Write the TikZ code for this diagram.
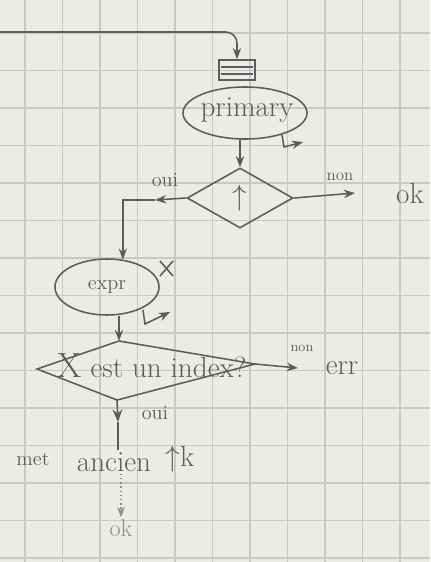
\documentclass[tikz,border=0pt]{standalone}
\usepackage{tikz}
\usetikzlibrary{arrows.meta, positioning}
\usetikzlibrary{shapes}
\definecolor{paper}{HTML}{EBEBE8}
\definecolor{gridgray}{HTML}{C8C8C5}
\definecolor{pencil}{HTML}{5C5C5C}
\definecolor{faint}{HTML}{8E8E8E}

\begin{document}
\begin{tikzpicture}[
    x=0.025cm, y=-0.025cm,
    every node/.style={
        text=pencil,
        inner sep=1pt,
        font=\huge},
    blob/.style={
        draw=pencil, ellipse, line width=1.1pt, inner sep=0pt},
    test/.style={
        draw=pencil, diamond, line width=1.1pt, inner sep=0pt,
        minimum width=2.65cm, minimum height=1.5cm, font=\huge},
    stackbox/.style={
        draw=pencil, line width=1.1pt, minimum width=0.9cm, minimum height=0.5cm,
        inner sep=0pt},
    >=Stealth]

    % squared paper
    \useasboundingbox (0,0) rectangle (430,562);
    \fill[paper] (0,0) rectangle (430,562);
    \foreach \gx in {25,62.5,...,440} \draw[gridgray, line width=0.9pt] (\gx,0) -- (\gx,562);
    \foreach \gy in {33,70.5,...,562} \draw[gridgray, line width=0.9pt] (0,\gy) -- (430,\gy);

    \begin{scope}[draw=pencil, line width=1.1pt]
    \coordinate (entry) at (0,32);
    \node[stackbox] (stack) at (237,70) {};
    \draw ([xshift=2pt]stack.west |- 0,67) -- ([xshift=-2pt]stack.east |- 0,67);
    \draw ([xshift=2pt]stack.west |- 0,74) -- ([xshift=-2pt]stack.east |- 0,74);
    \node[blob, minimum width=3.1cm, minimum height=1.3cm] (prim) at (245,113) {};
    \node at (247,110) {primary};
    \node[test] (dec) at (240,198) {$\uparrow$};
    \node[blob, minimum width=2.6cm, minimum height=1.4cm, font=\Large] (expr) at (107,287) {expr};

    % second test, a skewed diamond
    \coordinate (qtop) at (119,341);
    \coordinate (qleft) at (37,369);
    \coordinate (qbot) at (117,400);
    \coordinate (qright) at (255,364);
    \draw (qleft) -- (qtop) -- (qright) -- (qbot) -- cycle;
    \node (qtext) at (152,366) {\Huge X\huge\ est un index?};

    \node (ok) at (410,193) {ok};
    \node (err) at (342,368) {err};
    \node[font=\Large] (met) at (33,459) {met};
    \node (anc) at (114,462) {ancien};
    \node (upk) at (180,459) {$\uparrow$k};
    \node[text=faint, font=\LARGE] (okend) at (121,528) {ok};

    \coordinate (ouimid) at (155,200);
    \coordinate (nonend) at (355,193);
    \coordinate (errend) at (298,368);
    \coordinate (dnarr) at (118,422);

    \draw[->, rounded corners=8pt] (entry) -| (stack.north);
    \draw[->] (prim.south -| dec.north) -- (dec.north);
    \draw[->] (dec.east) -- (nonend);
    \draw[->] (dec.west) -- (ouimid);
    \draw[->] (ouimid) -| (expr.60);
    \draw[->] (expr.south -| qtop) -- (qtop);
    \draw[->] (qright) -- (errend);
    \draw[-{Stealth[length=9pt, width=7pt]}] (qbot) -- (dnarr);
    \draw (dnarr) -- (anc.north -| dnarr);
    \draw[->, faint, dotted, line width=1pt] (anc.south -| okend.north) -- (okend.north);

    % little marks beside the blobs
    \draw[->] ([shift={(37,22)}]prim.center) -- ++(2,12) -- ++(19,-5);
    \draw[->] ([shift={(36,23)}]expr.center) -- ++(2,14) -- ++(25,-12);
    \draw ([shift={(53,-26)}]expr.center) -- ++(13,15);
    \draw ([shift={(66,-26)}]expr.center) -- ++(-13,15);
    \end{scope}

    \begin{scope}[
        every node/.style={
            text=pencil,
            inner sep=1pt,
            font=\Large}]
        \node at (165,180) {oui};
        \node[font=\large] at (340,177) {non};
        \node[font=\normalsize] at (302,348) {non};
        \node at (155,413) {oui};
    \end{scope}
\end{tikzpicture}
\end{document}
